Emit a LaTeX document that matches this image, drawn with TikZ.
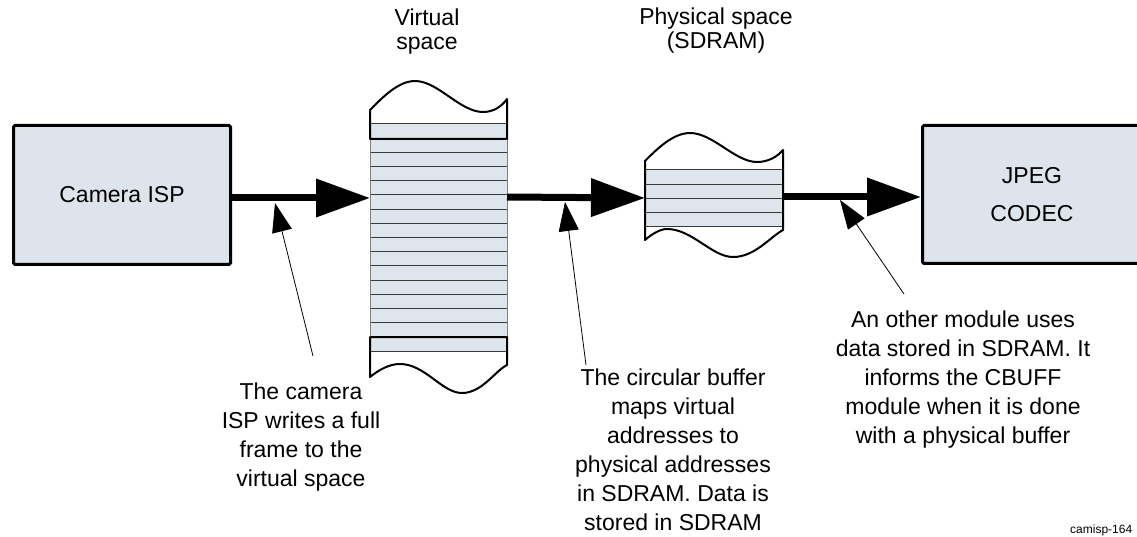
\documentclass[tikz,border=0pt]{standalone}
\usepackage{fontspec}
\setmainfont{Liberation Sans}
\usetikzlibrary{arrows.meta}
\definecolor{boxfill}{HTML}{DEE4EB}
\definecolor{stripefill}{HTML}{DFE5EC}
\definecolor{stripeline}{HTML}{3A3A3A}
\begin{document}
\begin{tikzpicture}[x=1pt,y=-1pt,
  blockbox/.style={draw=black, line width=3pt, fill=boxfill, rounded corners=1.5pt, inner sep=0pt, align=center},
  bigtxt/.style={font=\fontsize{23}{29}\selectfont, align=center, inner sep=0pt},
  titletxt/.style={font=\fontsize{23}{24}\selectfont, align=center, inner sep=0pt},
  bigarrow/.style={line width=7pt, -{Triangle[length=54pt,width=37pt]}},
  pointer/.style={line width=0.8pt, -{Triangle[length=29pt,width=20pt]}},
  tornedge/.style={draw=black, line width=2pt, line join=round},
  stripe/.style={draw=stripeline, line width=1pt}
]
\useasboundingbox (0,0) rectangle (1137,537);

% ---- blocks
\node[blockbox, minimum width=217pt, minimum height=139pt, font=\fontsize{23}{29}\selectfont] (cam) at (122,195) {Camera ISP};
\node[blockbox, minimum width=219pt, minimum height=138pt, font=\fontsize{23}{38}\selectfont] (jpeg) at (1032,194.5) {JPEG\\CODEC};

% ---- virtual space column
\fill[stripefill] (370,124) rectangle (507,351);
\foreach \k in {0,...,16} {
  \draw[stripe] (370,124+14.1875*\k) -- (507,124+14.1875*\k);
}
\draw[draw=gray, line width=1pt] (370,139) -- (370,337) (507,139) -- (507,337);
\draw[tornedge] (370,139) -- (370,110)
  .. controls (382,98) and (398,81) .. (415,81)
  .. controls (438,81) and (460,112) .. (483,112)
  .. controls (494,112) and (502,106) .. (507,99) -- (507,139) -- cycle;
\draw[tornedge] (370,337) -- (370,377)
  .. controls (380,369) and (390,364) .. (400,364)
  .. controls (425,364) and (442,393) .. (462,393)
  .. controls (482,393) and (495,371) .. (507,365) -- (507,337) -- cycle;
\coordinate (vL) at (370,198);
\coordinate (vR) at (507,197);

% ---- physical space column
\fill[stripefill] (645,170) rectangle (783,227);
\foreach \k in {0,...,4} {
  \draw[stripe] (645,170+14.25*\k) -- (783,170+14.25*\k);
}
\draw[tornedge] (645,161)
  .. controls (657,149) and (673,133) .. (690,133)
  .. controls (713,133) and (735,162) .. (757,162)
  .. controls (768,162) and (777,157) .. (783,150)
  -- (783,230)
  .. controls (770,237) and (755,257) .. (733,257)
  .. controls (712,257) and (692,229) .. (667,229)
  .. controls (660,229) and (652,234) .. (645,240) -- cycle;
\coordinate (pL) at (645,198);
\coordinate (pR) at (783,197);

% ---- titles (anchor base = last line baseline)
\node[titletxt, anchor=base] (vtitle) at (427,50) {Virtual\\space};
\node[titletxt, anchor=base] (ptitle) at (716,49) {Physical space\\(SDRAM)};

% ---- data flow arrows
\draw[bigarrow] (cam.east |- vL) -- (vL);
\draw[bigarrow] (vR) -- (pL);
\draw[bigarrow] (pR) -- (pR -| jpeg.west);

% ---- pointer notes
\coordinate (p1s) at (313,356);
\coordinate (p1t) at (275,203);
\coordinate (p2s) at (586,365);
\coordinate (p2t) at (565,202);
\coordinate (p3s) at (904,294);
\coordinate (p3t) at (840,200);
\draw[pointer] (p1s) -- (p1t);
\draw[pointer] (p2s) -- (p2t);
\draw[pointer] (p3s) -- (p3t);

\node[bigtxt, anchor=base] (note1) at (301,486) {The camera\\ISP writes a full\\frame to the\\virtual space};
\node[bigtxt, anchor=base] (note2) at (673,530) {The circular buffer\\maps virtual\\addresses to\hspace*{18pt}\\physical addresses\\in SDRAM. Data is\\stored in SDRAM};
\node[bigtxt, anchor=base] (note3) at (963,443) {An other module uses\\data stored in SDRAM. It\\informs the CBUFF\\module when it is done\\with a physical buffer};

\node[font=\fontsize{12}{14}\selectfont, anchor=base west, inner sep=0pt] (tag) at (1070,533) {camisp-164};
\end{tikzpicture}
\end{document}
